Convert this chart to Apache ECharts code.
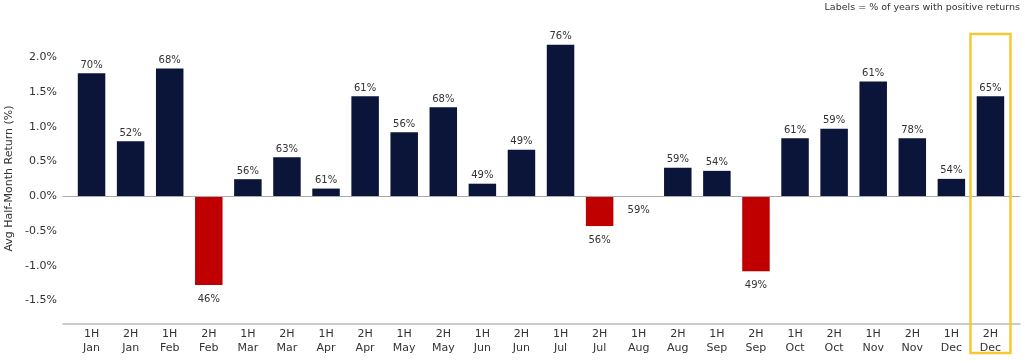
<!DOCTYPE html>
<html>
<head>
<meta charset="utf-8">
<script src="https://cdn.jsdelivr.net/npm/echarts@6/dist/echarts.min.js"></script>
<style>html,body{margin:0;padding:0;background:#fff}#c{width:1024px;height:361px}</style>
</head>
<body>
<div id="c"></div>
<script>
const categories = ['1H\nJan','2H\nJan','1H\nFeb','2H\nFeb','1H\nMar','2H\nMar','1H\nApr','2H\nApr','1H\nMay','2H\nMay','1H\nJun','2H\nJun','1H\nJul','2H\nJul','1H\nAug','2H\nAug','1H\nSep','2H\nSep','1H\nOct','2H\nOct','1H\nNov','2H\nNov','1H\nDec','2H\nDec'];
const avgReturns = [1.77,0.79,1.84,-1.28,0.245,0.56,0.11,1.44,0.92,1.28,0.18,0.67,2.18,-0.43,-0.003,0.41,0.365,-1.08,0.835,0.97,1.65,0.835,0.25,1.44];
const positivePct = [70,52,68,46,56,63,61,61,56,68,49,49,76,56,59,59,54,49,61,59,61,78,54,65];
const yTicks = [-1.5,-1.0,-0.5,0.0,0.5,1.0,1.5,2.0];
const highlightIndex = 23;

const FONT = 'DejaVu Sans';
const NAVY = '#0b1539', RED = '#c00000', TXT = '#333333';
const Y_MIN = -1.84, Y_MAX = 2.35;

const chart = echarts.init(document.getElementById('c'), null, {renderer:'canvas'});
const barData = avgReturns.map((v,i)=>({
  value: v,
  itemStyle: {color: v >= 0 ? NAVY : RED},
  label: v >= 0 ? {position:'top', distance:3} : {position:'bottom', distance:9}
}));

chart.setOption({
  animation:false,
  backgroundColor:'#fff',
  textStyle:{fontFamily:FONT},
  title:{text:'Labels = % of years with positive returns', right:4, top:3, padding:0,
    textStyle:{fontFamily:FONT, fontSize:9.5, fontWeight:'normal', color:TXT}},
  grid:[
    {left:72, right:14, top:33, bottom:37, containLabel:false, outerBoundsMode:'none'},
    {left:63, right:4, top:33, bottom:37, containLabel:false, outerBoundsMode:'none'}
  ],
  xAxis:[
    {type:'category', gridIndex:0, data:categories,
     axisLine:{show:false}, axisTick:{show:false},
     axisLabel:{color:TXT, fontSize:11, fontFamily:FONT, margin:3, lineHeight:14, interval:0}},
    {type:'value', gridIndex:1, min:0, max:1, position:'top', z:5,
     axisLine:{show:true, onZero:true, lineStyle:{color:'#aaaaaa', width:1}},
     axisTick:{show:false}, axisLabel:{show:false}, splitLine:{show:false}},
    {type:'value', gridIndex:1, min:0, max:1, position:'bottom',
     axisLine:{show:true, onZero:false, lineStyle:{color:'#bbbbbb', width:1.5}},
     axisTick:{show:false}, axisLabel:{show:false}, splitLine:{show:false}}
  ],
  yAxis:[
    {type:'value', gridIndex:0, min:Y_MIN, max:Y_MAX,
     name:'Avg Half-Month Return (%)', nameLocation:'middle', nameGap:54,
     nameTextStyle:{color:TXT, fontSize:11, fontFamily:FONT},
     axisLine:{show:false}, axisTick:{show:false}, splitLine:{show:false},
     axisLabel:{color:TXT, fontSize:11, fontFamily:FONT, margin:15,
       customValues:yTicks, formatter:v=>v.toFixed(1)+'%'}},
    {type:'value', gridIndex:1, min:Y_MIN, max:Y_MAX, show:false}
  ],
  series:[{
    type:'bar', xAxisIndex:0, yAxisIndex:0, data:barData, barWidth:27.5, z:2,
    label:{show:true, color:TXT, fontSize:10, fontFamily:FONT,
      formatter:p=>positivePct[p.dataIndex]+'%'}
  }]
});

const cx = chart.convertToPixel({xAxisIndex:0}, categories[highlightIndex]);
chart.setOption({
  graphic:[{type:'rect', shape:{x:cx-20, y:34, width:40, height:319},
    style:{fill:'none', stroke:'#f5c932', lineWidth:2.5}, z:100}]
});
</script>
</body>
</html>
